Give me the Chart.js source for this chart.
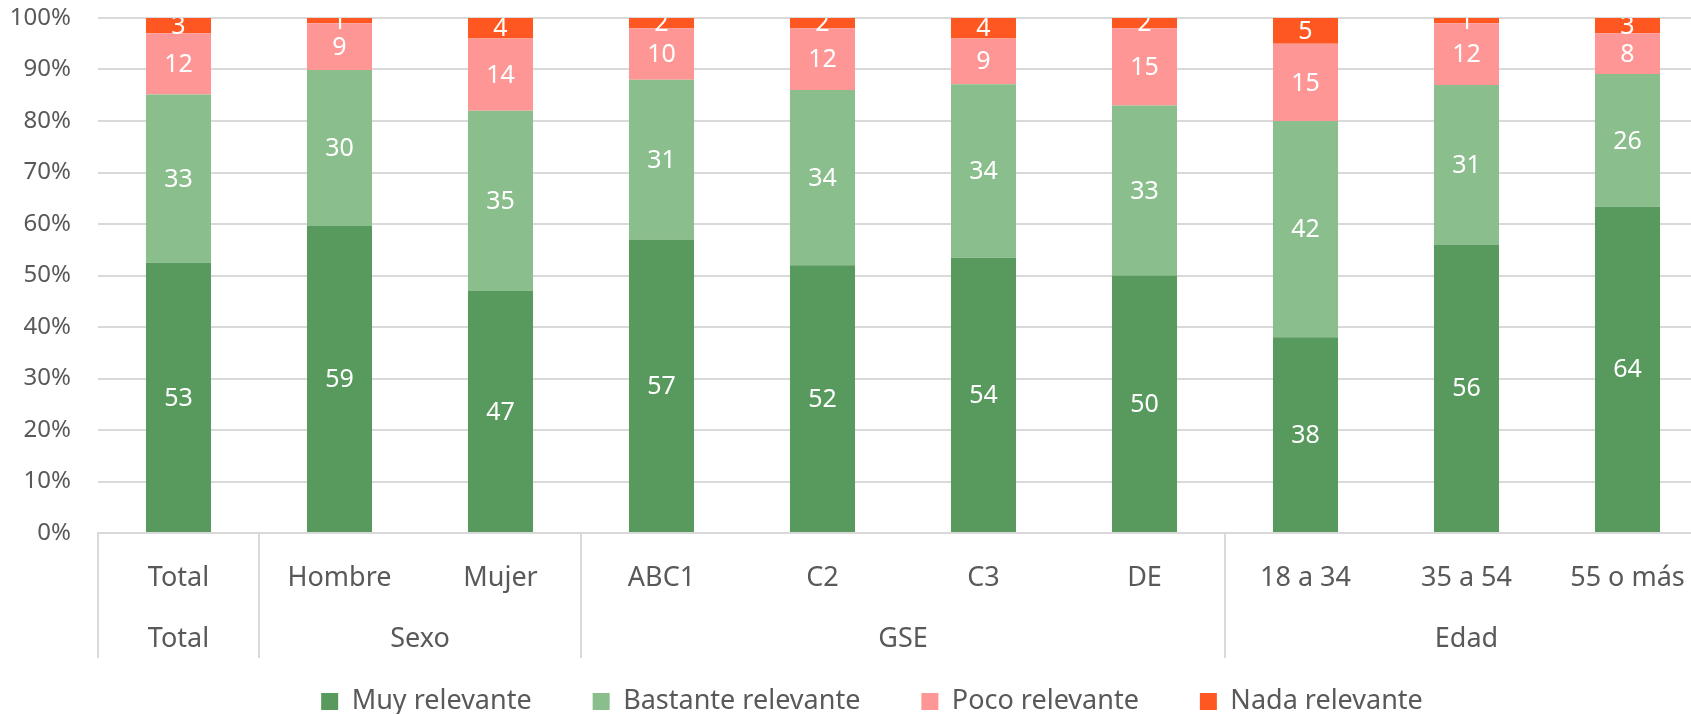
<!DOCTYPE html>
<html>
<head>
<meta charset="utf-8">
<script src="https://cdn.jsdelivr.net/npm/chart.js@4.4.0/dist/chart.umd.min.js"></script>
<style>
  html, body { margin: 0; padding: 0; overflow: hidden; background: #fff; }
  canvas { display: block; }
</style>
</head>
<body>
<canvas id="grafico" width="1708" height="714"></canvas>
<script>
// Dati del grafico
const categorie = ["Total", "Hombre", "Mujer", "ABC1", "C2", "C3", "DE", "18 a 34", "35 a 54", "55 o más"];
const gruppi = ["Total", "Sexo", "GSE", "Edad"];
const dimensioniGruppi = [1, 2, 4, 3];

const muyRelevante = [53, 59, 47, 57, 52, 54, 50, 38, 56, 64];
const bastanteRelevante = [33, 30, 35, 31, 34, 34, 33, 42, 31, 26];
const pocoRelevante = [12, 9, 14, 10, 12, 9, 15, 15, 12, 8];
const nadaRelevante = [3, 1, 4, 2, 2, 4, 2, 5, 1, 3];

const tickY = [0, 10, 20, 30, 40, 50, 60, 70, 80, 90, 100];

const FONT = "'Noto Sans', sans-serif";
const GRIGIO_TESTO = "#595959";
const GRIGIO_LINEE = "#d9d9d9";

// Grafico a barre impilate al 100%
const totali = categorie.map((_, i) =>
  muyRelevante[i] + bastanteRelevante[i] + pocoRelevante[i] + nadaRelevante[i]);

function serie(label, valori, colore) {
  return {
    label: label,
    data: valori.map((v, i) => (v / totali[i]) * 100),
    etichette: valori,
    backgroundColor: colore,
    borderWidth: 0,
    categoryPercentage: 1,
    barPercentage: 0.404,
  };
}

// Etichette bianche dentro le barre
const etichettePlugin = {
  id: "etichette",
  afterDatasetsDraw(chart) {
    const { ctx, chartArea } = chart;
    ctx.save();
    ctx.beginPath();
    ctx.rect(chartArea.left, chartArea.top, chartArea.right - chartArea.left, chartArea.bottom - chartArea.top);
    ctx.clip();
    ctx.font = "25px " + FONT;
    ctx.fillStyle = "#ffffff";
    ctx.textAlign = "center";
    ctx.textBaseline = "middle";
    chart.data.datasets.forEach((ds, i) => {
      chart.getDatasetMeta(i).data.forEach((bar, j) => {
        ctx.fillText(String(ds.etichette[j]), bar.x, (bar.y + bar.base) / 2 + 1);
      });
    });
    ctx.restore();
  },
};

// Secondo livello dell'asse X (gruppi) e separatori
const gruppiPlugin = {
  id: "gruppi",
  afterLayout(chart) {
    // sposta la legenda come nell'originale
    const l = chart.legend;
    l.top -= 31;
    l.bottom = chart.height;
    l.left += 18;
    l.right += 18;
  },
  afterDraw(chart) {
    const { ctx } = chart;
    const asse = chart.scales.x;
    const fondo = asse.bottom;
    ctx.save();
    ctx.strokeStyle = GRIGIO_LINEE;
    ctx.lineWidth = 2;
    ctx.font = "27px " + FONT;
    ctx.fillStyle = GRIGIO_TESTO;
    ctx.textAlign = "center";
    ctx.textBaseline = "middle";
    let inizio = 0;
    gruppi.forEach((nome, g) => {
      const xs = Math.round(asse.getPixelForValue(inizio - 0.5));
      ctx.beginPath();
      ctx.moveTo(xs, asse.top);
      ctx.lineTo(xs, fondo);
      ctx.stroke();
      const centro = asse.getPixelForValue(inizio + dimensioniGruppi[g] / 2 - 0.5);
      ctx.fillText(nome, centro, asse.top + 106);
      inizio += dimensioniGruppi[g];
    });
    const xe = Math.round(asse.getPixelForValue(inizio - 0.5));
    ctx.beginPath();
    ctx.moveTo(xe, asse.top);
    ctx.lineTo(xe, fondo);
    ctx.stroke();
    ctx.restore();
  },
};

const ctx = document.getElementById("grafico").getContext("2d");
new Chart(ctx, {
  type: "bar",
  data: {
    labels: categorie,
    datasets: [
      serie("Muy relevante", muyRelevante, "#589a5d"),
      serie("Bastante relevante", bastanteRelevante, "#8abe8c"),
      serie("Poco relevante", pocoRelevante, "#fe9696"),
      serie("Nada relevante", nadaRelevante, "#ff5722"),
    ],
  },
  options: {
    responsive: false,
    animation: false,
    events: [],
    layout: { padding: { left: 0, top: 18, right: 0, bottom: 0 } },
    scales: {
      x: {
        stacked: true,
        grid: { display: false, drawTicks: false },
        border: { color: GRIGIO_LINEE, width: 2 },
        ticks: {
          color: GRIGIO_TESTO,
          font: { family: FONT, size: 27 },
          padding: 29,
          maxRotation: 0,
          autoSkip: false,
        },
        afterFit: (s) => {
          s.height = 125;
          s.paddingLeft = 0;
          s.paddingRight = 0;
        },
      },
      y: {
        stacked: true,
        min: 0,
        max: 100,
        afterBuildTicks: (s) => { s.ticks = tickY.map((v) => ({ value: v })); },
        ticks: {
          color: GRIGIO_TESTO,
          font: { family: FONT, size: 24 },
          padding: 3,
          callback: (v) => v + "%",
        },
        grid: { color: GRIGIO_LINEE, lineWidth: 2, drawTicks: true, tickLength: 24, tickColor: "rgba(0,0,0,0)" },
        border: { display: false },
        afterFit: (s) => { s.width = 98; },
      },
    },
    plugins: {
      legend: {
        position: "bottom",
        maxHeight: 56,
        labels: {
          boxWidth: 17,
          boxHeight: 17,
          padding: 61,
          color: GRIGIO_TESTO,
          font: { family: FONT, size: 27 },
        },
      },
      tooltip: { enabled: false },
    },
  },
  plugins: [etichettePlugin, gruppiPlugin],
});
</script>
</body>
</html>
